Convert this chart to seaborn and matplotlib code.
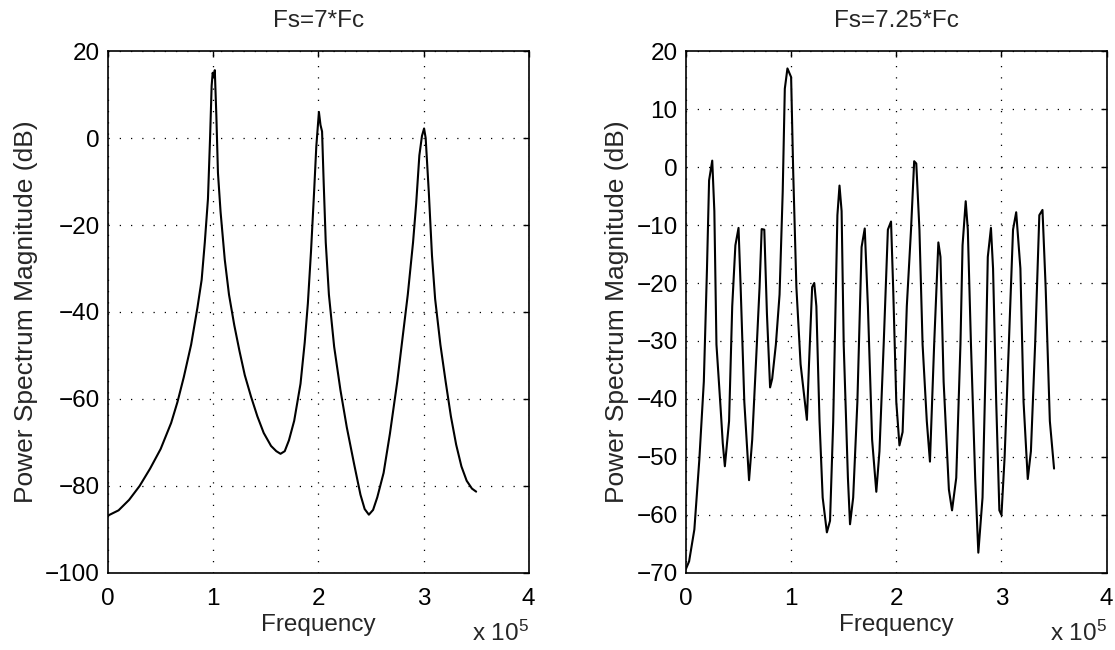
import numpy as np
import pandas as pd
import matplotlib
matplotlib.use("Agg")
import matplotlib.pyplot as plt
import seaborn as sns

# ---- data (frequency in units of 1e5 Hz, magnitude in dB) ----
left_freq = [0.00, 0.10, 0.20, 0.30, 0.40, 0.50, 0.60, 0.66, 0.72, 0.79, 0.85, 0.89,
             0.92, 0.95, 0.97, 0.985, 0.995, 1.005, 1.015, 1.03, 1.045, 1.07, 1.11,
             1.15, 1.20, 1.25, 1.30, 1.36, 1.42, 1.48, 1.55, 1.60, 1.64, 1.68, 1.72,
             1.77, 1.83, 1.87, 1.90, 1.93, 1.96, 1.98, 2.005, 2.02, 2.035, 2.05, 2.07,
             2.10, 2.15, 2.21, 2.27, 2.34, 2.40, 2.44, 2.48, 2.52, 2.56, 2.62, 2.68,
             2.75, 2.80, 2.85, 2.90, 2.93, 2.96, 2.985, 3.005, 3.02, 3.05, 3.08, 3.11,
             3.16, 3.21, 3.26, 3.31, 3.36, 3.41, 3.46, 3.50]
left_db = [-86.8, -85.6, -83.2, -80.0, -76.0, -71.5, -65.5, -60.7, -55.0, -47.5, -39.0, -32.6,
           -24.0, -14.0, 0.0, 12.0, 15.0, 14.0, 15.6, 5.0, -8.0, -17.0, -28.0,
           -36.0, -43.0, -49.0, -54.5, -59.5, -64.0, -67.8, -70.8, -72.0, -72.6, -72.0, -69.5,
           -65.0, -56.5, -47.0, -38.0, -26.0, -12.0, -2.0, 6.0, 3.0, 1.5, -10.0, -24.0,
           -36.0, -48.0, -58.0, -66.5, -75.0, -82.0, -85.3, -86.6, -85.5, -82.6, -77.0, -68.0,
           -56.0, -46.0, -36.0, -24.0, -15.0, -4.0, 0.5, 2.2, 0.0, -12.5, -27.0, -37.0,
           -47.5, -56.0, -64.0, -70.5, -75.5, -78.8, -80.6, -81.3]

right_freq = [0.00, 0.03, 0.08, 0.127, 0.17, 0.20, 0.22, 0.25, 0.27, 0.29, 0.33, 0.35,
              0.37, 0.41, 0.44, 0.47, 0.50, 0.52, 0.555, 0.60, 0.63, 0.665, 0.70, 0.72,
              0.745, 0.77, 0.80, 0.82, 0.855, 0.89, 0.92, 0.94, 0.965, 1.00, 1.02, 1.05,
              1.09, 1.15, 1.17, 1.20, 1.22, 1.24, 1.27, 1.30, 1.34, 1.37, 1.40, 1.44,
              1.46, 1.48, 1.50, 1.54, 1.56, 1.59, 1.63, 1.67, 1.70, 1.73, 1.77, 1.81,
              1.84, 1.88, 1.92, 1.95, 1.97, 2.00, 2.03, 2.06, 2.10, 2.14, 2.17, 2.19,
              2.22, 2.25, 2.29, 2.32, 2.36, 2.40, 2.42, 2.45, 2.50, 2.53, 2.57, 2.61,
              2.63, 2.66, 2.68, 2.71, 2.75, 2.78, 2.82, 2.85, 2.87, 2.90, 2.92, 2.95,
              2.98, 3.00, 3.03, 3.07, 3.11, 3.14, 3.18, 3.21, 3.25, 3.28, 3.32, 3.36,
              3.39, 3.42, 3.46, 3.50]
right_db = [-69.3, -68.0, -62.5, -50.5, -37.0, -17.5, -2.3, 1.1, -7.6, -30.6, -41.7, -47.6,
            -51.6, -43.8, -24.0, -13.5, -10.5, -20.7, -40.5, -54.0, -47.0, -34.0, -20.7, -10.7,
            -10.8, -25.3, -38.0, -36.5, -30.6, -22.0, -4.3, 13.5, 17.0, 15.5, -1.0, -20.7,
            -34.0, -43.6, -34.0, -20.7, -20.0, -24.0, -43.8, -57.0, -63.0, -61.0, -44.0, -8.3,
            -3.2, -7.6, -30.6, -53.6, -61.6, -57.0, -40.5, -13.8, -10.6, -24.0, -47.0, -56.0,
            -49.0, -30.6, -10.8, -9.4, -20.7, -40.5, -48.0, -45.7, -24.0, -10.8, 1.0, 0.6,
            -10.8, -30.6, -43.8, -50.8, -30.6, -13.0, -15.5, -37.0, -55.6, -59.2, -53.6, -30.6,
            -13.5, -5.9, -10.8, -30.6, -53.6, -66.5, -57.0, -34.0, -15.5, -10.5, -17.5, -40.5,
            -59.2, -60.0, -50.0, -30.6, -10.8, -7.8, -17.5, -40.5, -53.8, -49.0, -30.6, -8.3,
            -7.4, -20.7, -43.8, -52.0]

titles = ["Fs=7*Fc", "Fs=7.25*Fc"]
ylims = [(-100, 20), (-70, 20)]
yticks = [list(range(-100, 21, 20)), list(range(-70, 21, 10))]
xtick_vals = [0, 1, 2, 3, 4]
xtick_labels = ["0", "1", "2", "3", "4"]
scale = 1e5

sns.set_style("white")
plt.rcParams['font.family'] = ['Liberation Sans', 'DejaVu Sans']
plt.rcParams['mathtext.fontset'] = 'custom'
plt.rcParams['mathtext.rm'] = 'Liberation Sans'
plt.rcParams['mathtext.it'] = 'Liberation Sans:italic'
plt.rcParams['mathtext.bf'] = 'Liberation Sans:bold'

FS = 17.5
fig = plt.figure(figsize=(11.15, 6.5), dpi=100)
fig.patch.set_facecolor("white")
ax1 = fig.add_axes([0.0969, 0.1185, 0.3773, 0.803])
ax2 = fig.add_axes([0.6152, 0.1185, 0.3773, 0.803])

datasets = [
    pd.DataFrame({"Frequency": np.array(left_freq) * scale, "dB": left_db}),
    pd.DataFrame({"Frequency": np.array(right_freq) * scale, "dB": right_db}),
]

for ax, df, title, yl, yt in zip([ax1, ax2], datasets, titles, ylims, yticks):
    sns.lineplot(data=df, x="Frequency", y="dB", ax=ax, color="black",
                 linewidth=1.5, estimator=None, sort=False)
    ax.set_xlim(0, 4 * scale)
    ax.set_ylim(*yl)
    ax.set_xticks([v * scale for v in xtick_vals])
    ax.set_xticklabels(xtick_labels)
    ax.set_yticks(yt)
    ax.grid(True, color="black", linestyle=(0, (1, 8)), linewidth=0.9)
    for s in ax.spines.values():
        s.set_color("black")
        s.set_linewidth(1.2)
        s.set_visible(True)
    ax.tick_params(direction="in", length=4, width=1, colors="black",
                   top=True, right=True, labelsize=FS)
    ax.tick_params(axis="x", pad=11)
    ax.tick_params(axis="y", pad=6)
    ax.set_title(title, fontsize=FS, pad=17)
    ax.set_xlabel("Frequency", fontsize=FS, labelpad=3)
    ax.set_ylabel("Power Spectrum Magnitude (dB)", fontsize=19, labelpad=5)
    ax.text(1.0, -0.092, r"x 10$^{5}$", transform=ax.transAxes, ha="right", va="top",
            fontsize=FS)

fig.savefig("out.png", dpi=100, facecolor="white")
